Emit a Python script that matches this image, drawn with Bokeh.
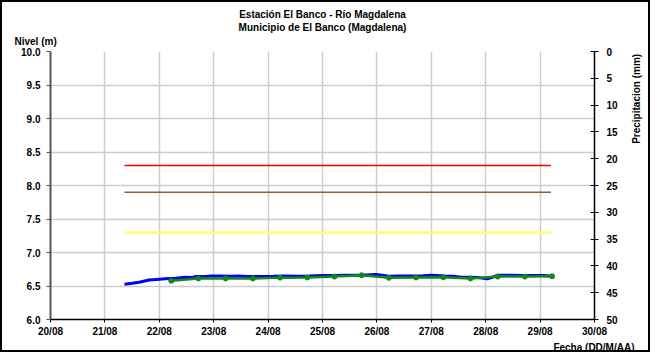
from bokeh.plotting import figure
from bokeh.models import Range1d, LinearAxis, FixedTicker, Title
from bokeh.embed import file_html
from bokeh.resources import INLINE

# ---------------- data ----------------
title_line1 = "Estación El Banco - Río Magdalena"
title_line2 = "Municipio de El Banco (Magdalena)"
y_left_title = "Nivel (m)"
y_right_title = "Precipitacion (mm)"
x_title = "Fecha (DD/M/AA)"

day_ticks = [20, 21, 22, 23, 24, 25, 26, 27, 28, 29, 30]
day_labels = ["20/08", "21/08", "22/08", "23/08", "24/08", "25/08",
              "26/08", "27/08", "28/08", "29/08", "30/08"]
level_ticks = [6.0, 6.5, 7.0, 7.5, 8.0, 8.5, 9.0, 9.5, 10.0]
precip_ticks = [0, 5, 10, 15, 20, 25, 30, 35, 40, 45, 50]

blue_t = [21.36, 21.50, 21.63, 21.81, 21.95, 22.11, 22.30, 22.48, 22.60, 22.66,
          22.80, 22.95, 23.15, 23.32, 23.45, 23.62, 23.85, 24.10, 24.30, 24.53,
          24.75, 25.01, 25.20, 25.43, 25.70, 25.98, 26.10, 26.22, 26.40, 26.64,
          26.85, 27.00, 27.25, 27.40, 27.55, 27.70, 27.85, 28.03, 28.12, 28.21,
          28.45, 28.70, 28.90, 29.06, 29.18]
blue_v = [6.527, 6.540, 6.557, 6.590, 6.598, 6.607, 6.615, 6.630, 6.628, 6.640,
          6.640, 6.650, 6.648, 6.645, 6.650, 6.640, 6.643, 6.645, 6.650, 6.645,
          6.648, 6.657, 6.655, 6.660, 6.662, 6.670, 6.662, 6.646, 6.648, 6.650,
          6.652, 6.660, 6.650, 6.645, 6.630, 6.630, 6.627, 6.607, 6.630, 6.660,
          6.660, 6.655, 6.658, 6.657, 6.650]

green_t = [22.22, 22.72, 23.22, 23.72, 24.22, 24.72, 25.22, 25.72, 26.22,
           26.72, 27.22, 27.72, 28.22, 28.72, 29.22]
green_v = [6.578, 6.612, 6.612, 6.612, 6.625, 6.627, 6.640, 6.660, 6.622,
           6.627, 6.630, 6.612, 6.640, 6.640, 6.645]

ref_t = [21.36, 29.20]
red_level = [8.3, 8.3]
brown_level = [7.9, 7.9]
yellow_level = [7.3, 7.3]

# ---------------- figure ----------------
FONT = "Liberation Sans"

p = figure(width=650, height=352, x_range=Range1d(20, 30), y_range=Range1d(6, 10),
           output_backend="svg", toolbar_location=None,
           min_border_left=50, min_border_right=48, min_border_top=51,
           min_border_bottom=33)
p.outline_line_color = None
p.background_fill_color = "white"
p.border_fill_color = None
p.styles = {"background-color": "white",
            "box-shadow": "inset 0 0 0 2px black"}

# grids
p.xgrid.ticker = FixedTicker(ticks=day_ticks)
p.ygrid.ticker = FixedTicker(ticks=level_ticks)
for g in (p.xgrid, p.ygrid):
    g.grid_line_color = "#cccccc"
    g.grid_line_width = 1.5

# bottom axis
xa = p.xaxis[0]
xa.ticker = FixedTicker(ticks=day_ticks)
xa.major_label_overrides = {t: l for t, l in zip(day_ticks, day_labels)}
xa.axis_line_color = "black"
xa.axis_line_width = 1.5
xa.major_tick_line_color = "black"
xa.major_tick_out = 3
xa.major_tick_in = 0
xa.minor_tick_line_color = None
xa.major_label_standoff = 3

# left axis
ya = p.yaxis[0]
ya.ticker = FixedTicker(ticks=level_ticks)
ya.major_label_overrides = {t: f"{t:.1f}" for t in level_ticks}
ya.axis_line_color = "#555555"
ya.axis_line_width = 2
ya.major_tick_line_color = "#555555"
ya.major_tick_out = 4
ya.major_tick_in = 0
ya.minor_tick_line_color = None
ya.major_label_standoff = 6

# right axis (precipitation, inverted)
p.extra_y_ranges = {"precip": Range1d(50, 0)}
ra = LinearAxis(y_range_name="precip", ticker=FixedTicker(ticks=precip_ticks))
ra.axis_line_color = "black"
ra.axis_line_width = 1.5
ra.major_tick_line_color = "black"
ra.major_tick_out = 4
ra.major_tick_in = 4
ra.minor_tick_line_color = None
ra.major_label_standoff = 8
ra.axis_label = "\u00a0" * 15 + y_right_title
ra.axis_label_text_font = FONT
ra.axis_label_text_font_style = "bold"
ra.axis_label_text_font_size = "10px"
ra.axis_label_text_color = "black"
ra.axis_label_standoff = 16
try:
    ra.axis_label_orientation = 1.5708
except Exception:
    pass
p.add_layout(ra, "right")

for ax in (xa, ya, ra):
    ax.major_label_text_font = FONT
    ax.major_label_text_font_style = "bold"
    ax.major_label_text_font_size = "10px"
    ax.major_label_text_color = "black"

# titles (stacked from the frame outward)
def ttl(text, side, align, offset=0, standoff=0, valign="bottom"):
    p.add_layout(Title(text=text, align=align, offset=offset, standoff=standoff,
                       vertical_align=valign,
                       text_font=FONT, text_font_style="bold",
                       text_font_size="10px", text_color="black"), side)

ttl(y_left_title, "above", "left", offset=-36, standoff=6, valign="top")
ttl(title_line2, "above", "center")
ttl(title_line1, "above", "center")
ttl(x_title, "below", "right", offset=-40)

# reference levels
p.line(ref_t, red_level, line_color="#ff0000", line_width=1.5)
p.line(ref_t, brown_level, line_color="#8b6040", line_width=1.5)
p.line(ref_t, yellow_level, line_color="#ffff66", line_width=2.5)

# series
p.line(blue_t, blue_v, line_color="#0000ff", line_width=3)
p.line(green_t, green_v, line_color="#128a12", line_width=2.5)
p.scatter(green_t, green_v, size=5, color="#128a12")

open("out.html", "w").write(file_html(p, INLINE))
